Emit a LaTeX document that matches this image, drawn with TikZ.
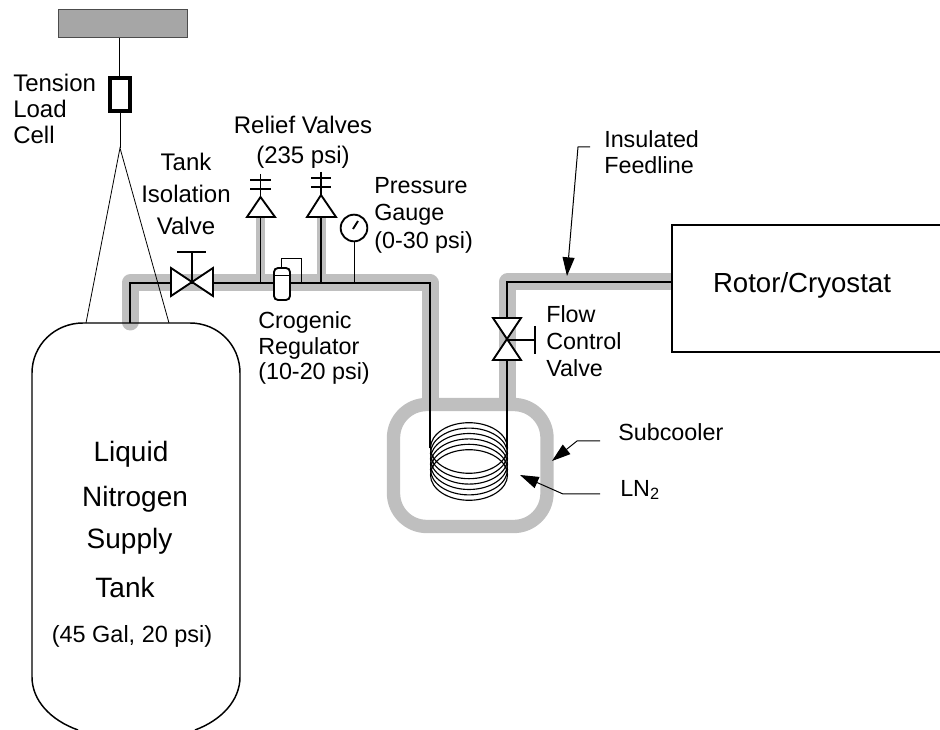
\documentclass[tikz,border=0pt]{standalone}
\usepackage{fontspec}
\setmainfont{Liberation Sans}
\usetikzlibrary{arrows.meta}
\definecolor{ins}{HTML}{BFBFBF}
\definecolor{roof}{HTML}{A6A6A6}
\tikzset{
  lbl/.style={inner sep=0pt,align=left,font=\fontsize{17.5}{#1}\selectfont},
  lblc/.style={inner sep=0pt,align=center,font=\fontsize{18}{#1}\selectfont},
  big/.style={inner sep=0pt,align=center,font=\fontsize{#1}{#1}\selectfont},
  thinl/.style={draw=black,line width=0.6pt},
  pipe/.style={draw=black,line width=1.4pt},
  gray pipe/.style={draw=ins,line width=12.75pt,line join=round,line cap=round},
  gray stub/.style={draw=ins,line width=6.75pt},
  valvebody/.style={draw=black,line width=1.4pt,fill=white,line join=miter},
  pointer/.style={draw=black,line width=0.75pt,-{Triangle[length=14pt,width=9pt]}},
  wall/.style={draw=black,line width=1.1pt}
}
\begin{document}
\begin{tikzpicture}[x=0.75pt,y=-0.75pt]
\useasboundingbox (0,0) rectangle (940,730);
% coordinates
\coordinate (tl) at (130,323);
\coordinate (tc) at (130,283);
\coordinate (lb) at (430,283);
\coordinate (ld) at (430,448);
\coordinate (rd) at (507,448);
\coordinate (rc) at (507,282);
\coordinate (rr) at (671,282);
% insulation
\draw[gray pipe] (130,322) -- (tc) -- (lb) -- (430,400);
\draw[gray pipe] (507.5,400) -- (507.5,282) -- (rr);
\draw[draw=ins,line width=10pt,rounded corners=25pt] (393.5,404.5) rectangle (547,526.5);
\draw[gray stub] (260.5,217) -- (260.5,283);
\draw[gray stub] (321,217) -- (321,283);
% ceiling + suspension
\node[draw=black!70,line width=0.6pt,fill=roof,minimum width=97pt,minimum height=21.5pt,inner sep=0pt] (ceil) at (123,23.5) {};
\node[draw=black,line width=3pt,fill=white,minimum width=15pt,minimum height=25pt,inner sep=0pt] (cell) at (120,94.5) {};
\coordinate (apex) at (120,148);
\coordinate (sl) at (86,323);
\coordinate (sr) at (169,323);
\draw[thinl] (119,38) -- (119,77);
\draw[thinl] (cell.south) -- (apex);
\draw[thinl] (sl) -- (apex) -- (sr);
% tank
\draw[wall] (78,730) .. controls (50,720) and (32,700) .. (32,677) -- (32,373)
  .. controls (32,345) and (55,323) .. (83,323) -- (190,323)
  .. controls (218,323) and (240,345) .. (240,373) -- (240,677)
  .. controls (240,700) and (222,720) .. (195,730);
% pipes
\draw[pipe] (tl) -- (tc) -- (lb) -- (ld);
\draw[pipe] (rd) -- (rc) -- (rr);
% coil
\foreach \c in {448,453.4,458.8,464.2,469.6,475}
  \draw[line width=0.85pt] (469,\c) ellipse (38.5 and 25.3);
% tank valve
\coordinate (tv) at (192,282);
\draw[valvebody] (171,268) -- (213,296) -- (213,268) -- (171,296) -- cycle;
\draw[pipe] (tv) -- (192,252);
\draw[pipe] (177,252) -- (206,252);
% relief valves
\draw[pipe] (260.5,217) -- (260.5,283);
\draw[pipe] (321,217) -- (321,283);
\draw[valvebody] (260.5,197) -- (275,217) -- (247,217) -- cycle;
\draw[valvebody] (321,195) -- (336,217) -- (307,217) -- cycle;
\draw[pipe] (260.5,174) -- (260.5,197) (250,180) -- (271,180) (250,189) -- (271,189);
\draw[pipe] (321,172) -- (321,195) (311,178) -- (331,178) (311,187) -- (331,187);
% gauge
\draw[pipe] (354.5,241) -- (354.5,283);
\node[circle,draw=black,line width=1.4pt,fill=white,minimum size=20pt,inner sep=0pt] (gauge) at (354,228) {};
\draw[pipe] (353,229) -- (358,221);
% regulator
\draw[thinl] (281,268) -- (281,258) -- (301,258) -- (301,283);
\draw[draw=black,line width=1.4pt,fill=white,rounded corners=3pt] (274,268) rectangle (290,300);
\draw[pipe] (274,275.5) -- (290,275.5);
% flow valve
\draw[valvebody] (493,318) -- (521,318) -- (493,360) -- (521,360) -- cycle;
\draw[pipe] (507,340) -- (535,340);
\draw[pipe] (535,326) -- (535,354);
% rotor
\fill[white] (672,225) rectangle (940,352);
\draw[wall] (940,225) -- (672,225) -- (672,352) -- (940,352);
% pointers
\draw[pointer] (600,441) -- (577,441) -- (552,461);
\draw[pointer] (600,494) -- (563,494) -- (520,475);
\draw[pointer] (590,147) -- (578,147) -- (567,276);
% labels
\node[lblc=19.5pt,align=left,anchor=west] (t1) at (13,109) {Tension\\Load\\Cell};
\node[lblc=24pt] (t2) at (186,194) {Tank\\Isolation\\Valve};
\node[lblc=22.5pt] (t4) at (303,142) {Relief Valves\\(235 psi)};
\node[lbl=20.6pt,anchor=west] (t5) at (374,215) {Pressure\\Gauge\\(0-30 psi)};
\node[lbl=19pt,anchor=west] (t6) at (258,348) {Crogenic\\Regulator\\(10-20 psi)};
\node[lbl=20pt,anchor=west] (t7) at (604,152) {Insulated\\Feedline};
\node[lbl=20.25pt,anchor=west] (t8) at (546,341) {Flow\\Control\\Valve};
\node[lbl=20pt,anchor=west] (t9) at (618,432) {Subcooler};
\node[lbl=20pt,anchor=west] (t10) at (620,490) {LN\textsubscript{2}};
\node[big=20.7] (t11) at (802,285) {Rotor/Cryostat};
\node[big=21] (t12) at (131,454) {Liquid};
\node[big=21] (t13) at (135,499) {Nitrogen};
\node[big=21] (t14) at (129.5,541) {Supply};
\node[big=21] (t15) at (125,587) {Tank};
\node[lblc=20pt,font=\fontsize{17.6}{20}\selectfont] (t16) at (132,636) {(45 Gal, 20 psi)};
\end{tikzpicture}
\end{document}
